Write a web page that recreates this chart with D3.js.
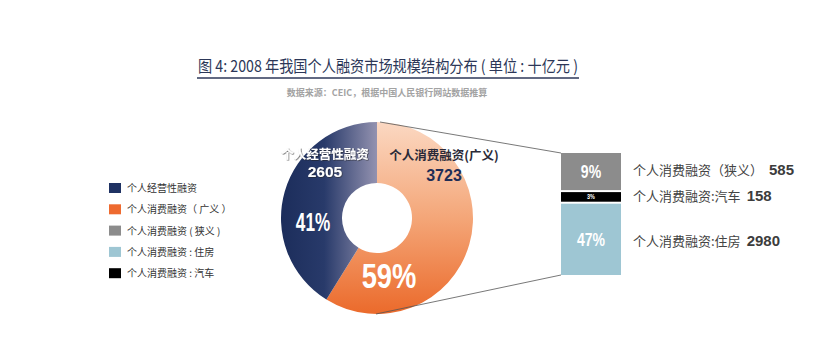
<!DOCTYPE html>
<html><head><meta charset="utf-8">
<script src="https://cdn.jsdelivr.net/npm/d3@7"></script>
<style>
body{margin:0;background:#fff;}
svg{display:block;font-family:"Noto Sans CJK SC","Noto Sans",sans-serif;}
.num{font-family:"Liberation Sans",Arial,sans-serif;font-weight:bold;}
</style></head>
<body><svg id="c" width="814" height="357"></svg>
<script>
// ---- data ----
const titleText = "图 4:  2008 年我国个人融资市场规模结构分布 ( 单位 : 十亿元 )";
const sourceText = "数据来源：CEIC，根据中国人民银行网站数据推算";
const legendLabels = ["个人经营性融资", "个人消费融资（ 广义 ）", "个人消费融资 ( 狭义 )", "个人消费融资 : 住房", "个人消费融资 : 汽车"];
const legendColors = ["#1f3263", "#ee6a2f", "#8c8c8c", "#9ec6d3", "#000000"];
const pieCategories = ["个人消费融资(广义)", "个人经营性融资"];
const pieValues = [3723, 2605];
const barCategories = ["个人消费融资（狭义）", "个人消费融资:汽车", "个人消费融资:住房"];
const barValues = [585, 158, 2980];
const barPctLabels = ["9%", "3%", "47%"];
const barColors = ["#8c8c8c", "#000000", "#9ec6d3"];

const svg = d3.select("#c");
const total = d3.sum(pieValues);
const pct = v => Math.round(v / total * 100) + "%";

// condensed bold text helper
function cText(parent, x, y, str, size, sx, fill, anchor) {
  const g = parent.append("g").attr("transform", `translate(${x},${y}) scale(${sx},1)`);
  return g.append("text").attr("class", "num").attr("font-size", size).attr("fill", fill)
    .attr("text-anchor", anchor || "middle").text(str);
}

// title
svg.append("text").attr("x", 198).attr("y", 72).attr("font-size", 16).attr("fill", "#2c3758")
  .attr("textLength", 380).attr("lengthAdjust", "spacingAndGlyphs").text(titleText);
svg.append("line").attr("x1", 197).attr("x2", 579).attr("y1", 78).attr("y2", 78)
  .attr("stroke", "#2c3758").attr("stroke-width", 1.3);
svg.append("text").attr("x", 387).attr("y", 96).attr("text-anchor", "middle").attr("font-size", 9)
  .attr("font-weight", "bold").attr("fill", "#a3a3a3").text(sourceText);

// legend
const lg = svg.append("g");
legendLabels.forEach((t, i) => {
  const y = 183 + i * 21.3;
  lg.append("rect").attr("x", 109).attr("y", y).attr("width", 12).attr("height", 10).attr("fill", legendColors[i]);
  lg.append("text").attr("x", 127).attr("y", y + 9).attr("font-size", 10).attr("fill", "#333").text(t);
});

// gradients & filters
const defs = svg.append("defs");
const R = 96, r0 = 35;
const gO = defs.append("linearGradient").attr("id", "gO").attr("gradientUnits", "userSpaceOnUse")
  .attr("x1", 0).attr("y1", -R).attr("x2", 0).attr("y2", R);
gO.append("stop").attr("offset", 0).attr("stop-color", "#fbd8c2");
gO.append("stop").attr("offset", 0.5).attr("stop-color", "#f4a678");
gO.append("stop").attr("offset", 1).attr("stop-color", "#eb6a2b");
const gN = defs.append("linearGradient").attr("id", "gN").attr("gradientUnits", "userSpaceOnUse")
  .attr("x1", -R).attr("y1", 0).attr("x2", 0).attr("y2", 0);
gN.append("stop").attr("offset", 0).attr("stop-color", "#1c2d5b");
gN.append("stop").attr("offset", 0.45).attr("stop-color", "#283a6a");
gN.append("stop").attr("offset", 1).attr("stop-color", "#9392b0");
const sh = defs.append("filter").attr("id", "sh").attr("x", "-10%").attr("y", "-30%").attr("width", "120%").attr("height", "160%");
sh.append("feDropShadow").attr("dx", 0.6).attr("dy", 0.6).attr("stdDeviation", 0.5).attr("flood-color", "#222").attr("flood-opacity", 0.9);

// donut
const cx = 377, cy = 218;
const pie = d3.pie().sort(null).value(d => d)(pieValues);
const arc = d3.arc().innerRadius(r0).outerRadius(R);
const dg = svg.append("g").attr("transform", `translate(${cx},${cy})`);
dg.selectAll("path").data(pie).enter().append("path")
  .attr("d", arc).attr("fill", (d, i) => i === 0 ? "url(#gO)" : "url(#gN)");

// stacked bar geometry (log-scaled display heights)
const bx = 561, bw = 60, bTop = 153, gap = 2;
const y0 = d3.scaleLog().domain([100, 3000]).range([0, 1]);
const raw = barValues.map(v => y0(v));
const barH = 122 - gap * (barValues.length - 1);
const hScale = d3.scaleLinear().domain([0, d3.sum(raw)]).range([0, barH]);
let acc = bTop;
const segs = barValues.map((v, i) => { const h = hScale(raw[i]); const s = {v, y: acc, h, i}; acc += h + gap; return s; });
const bBot = acc - gap;

// connector lines
svg.append("line").attr("x1", cx + 3).attr("y1", cy - R).attr("x2", bx).attr("y2", bTop)
  .attr("stroke", "#555").attr("stroke-width", 0.8);
svg.append("line").attr("x1", cx - 1).attr("y1", cy + R).attr("x2", bx).attr("y2", bBot)
  .attr("stroke", "#555").attr("stroke-width", 0.8);

// donut labels
svg.append("text").attr("x", 325).attr("y", 159).attr("text-anchor", "middle").attr("font-size", 12.5)
  .attr("font-weight", "bold").attr("fill", "#fff").attr("filter", "url(#sh)").text(pieCategories[1]);
svg.append("text").attr("class", "num").attr("x", 325).attr("y", 177).attr("text-anchor", "middle")
  .attr("font-size", 15.5).attr("fill", "#fff").attr("filter", "url(#sh)").text(pieValues[1]);
svg.append("text").attr("x", 444).attr("y", 160).attr("text-anchor", "middle").attr("font-size", 12.5)
  .attr("font-weight", "bold").attr("fill", "#2a2a38").text(pieCategories[0]);
svg.append("text").attr("class", "num").attr("x", 444).attr("y", 181).attr("text-anchor", "middle")
  .attr("font-size", 16).attr("fill", "#1f2d55").text(pieValues[0]);
cText(svg, 313, 231, pct(pieValues[1]), 26, 0.66, "#fff");
cText(svg, 389, 288, pct(pieValues[0]), 36, 0.76, "#fff");

// stacked bar
const bg = svg.append("g");
bg.selectAll("rect").data(segs).enter().append("rect")
  .attr("x", bx).attr("y", d => d.y).attr("width", bw).attr("height", d => d.h)
  .attr("fill", d => barColors[d.i]);
const pctSizes = [18, 7, 18];
segs.forEach(d => {
  cText(bg, bx + bw / 2, d.y + d.h / 2 + pctSizes[d.i] * 0.36, barPctLabels[d.i], pctSizes[d.i], 0.78, "#fff");
});
const labelY = [170, 196, 241];
segs.forEach((d, i) => {
  const t = svg.append("text").attr("x", 633).attr("y", labelY[i] + 5).attr("font-size", 13).attr("fill", "#444")
    .text(barCategories[i]);
  const w = t.node().getComputedTextLength();
  svg.append("text").attr("class", "num").attr("x", 633 + w + 6).attr("y", labelY[i] + 5)
    .attr("font-size", 15).attr("fill", "#3c3c3c").text(d.v);
});
</script></body></html>
